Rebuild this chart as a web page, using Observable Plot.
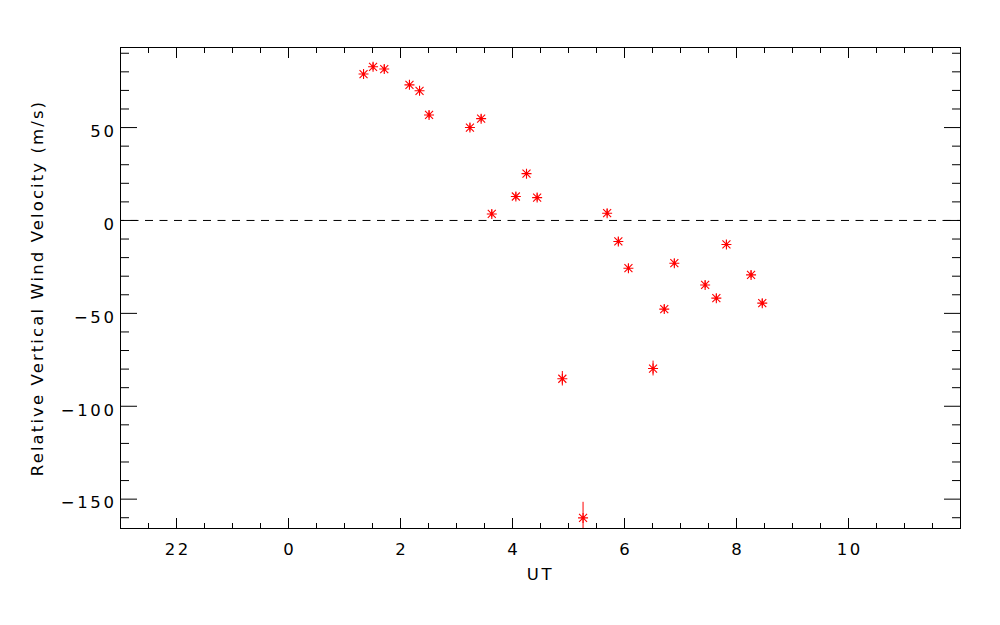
<!DOCTYPE html>
<html><head><meta charset="utf-8">
<script src="https://cdn.jsdelivr.net/npm/d3@7"></script>
<script src="https://cdn.jsdelivr.net/npm/@observablehq/plot@0.6"></script>
<style>
body{margin:0;background:#fff}
#chart svg text{letter-spacing:2.6px}
#chart g[aria-label="y-axis label"] text{letter-spacing:2.1px}
</style></head><body><div id="chart"></div>
<script>
// UT in hours (22 UT of previous day = -2)
const ut = [1.34, 1.51, 1.71, 2.16, 2.34, 2.51, 3.24, 3.44, 3.63, 4.06, 4.25, 4.44, 4.89, 5.26, 5.69, 5.89, 6.07, 6.51, 6.71, 6.89, 7.44, 7.64, 7.82, 8.26, 8.46];
const velocity = [78.8, 82.7, 81.5, 73.0, 69.8, 56.8, 50.0, 54.8, 3.5, 12.9, 25.2, 12.3, -85.2, -160.1, 3.9, -11.3, -25.7, -79.7, -47.7, -23.0, -34.7, -41.8, -12.9, -29.3, -44.5];
const velocityError = [2, 2, 2, 2, 2, 2, 2, 2, 2, 2, 2, 2, 3.9, 8.4, 2, 2, 2, 4.0, 2, 2, 2, 2, 2, 2, 2];

const xMajorTicks = [-2, 0, 2, 4, 6, 8, 10];
const xTickLabels = ["22", "0", "2", "4", "6", "8", "10"];
const xMinorTicks = [-2.5,-1.5,-1,-0.5,0.5,1,1.5,2.5,3,3.5,4.5,5,5.5,6.5,7,7.5,8.5,9,9.5,10.5,11,11.5];
const yMajorTicks = [-150, -100, -50, 0, 50];
const yMinorTicks = [-160,-140,-130,-120,-110,-90,-80,-70,-60,-40,-30,-20,-10,10,20,30,40,60,70,80,90];
const xDomain = [-3, 12];
const yDomain = [-165.8, 93.1];
const xLabel = "UT";
const yLabel = "Relative Vertical Wind Velocity (m/s)";

const data = ut.map((u, i) => ({ut: u, v: velocity[i], lo: velocity[i] - velocityError[i], hi: velocity[i] + velocityError[i]}));

const asterisk = {
  draw(ctx, size) {
    const r = Math.sqrt(size / Math.PI), d = r * 0.8;
    ctx.moveTo(-r, 0); ctx.lineTo(r, 0);
    ctx.moveTo(0, -r); ctx.lineTo(0, r);
    ctx.moveTo(-d, -d); ctx.lineTo(d, d);
    ctx.moveTo(-d, d); ctx.lineTo(d, -d);
  }
};

const red = "#ff0000";
const chart = Plot.plot({
  width: 1000, height: 625,
  marginTop: 47, marginBottom: 97, marginLeft: 120, marginRight: 40,
  style: {fontFamily: "DejaVu Sans", fontSize: "16.5px", color: "black", background: "white"},
  x: {domain: xDomain},
  y: {domain: yDomain},
  marks: [
    Plot.ruleY([0], {stroke: "black", strokeDasharray: "8,6.5", strokeDashoffset: 4}),
    // inward ticks on all four sides
    Plot.axisX({anchor: "bottom", ticks: xMajorTicks, tickSize: -10, fill: "none", label: null}),
    Plot.axisX({anchor: "bottom", ticks: xMinorTicks, tickSize: -5, fill: "none", label: null}),
    Plot.axisX({anchor: "top", ticks: xMajorTicks, tickSize: -10, fill: "none", label: null}),
    Plot.axisX({anchor: "top", ticks: xMinorTicks, tickSize: -5, fill: "none", label: null}),
    Plot.axisY({anchor: "left", ticks: yMajorTicks, tickSize: -17, fill: "none", label: null}),
    Plot.axisY({anchor: "left", ticks: yMinorTicks, tickSize: -9, fill: "none", label: null}),
    Plot.axisY({anchor: "right", ticks: yMajorTicks, tickSize: -17, fill: "none", label: null}),
    Plot.axisY({anchor: "right", ticks: yMinorTicks, tickSize: -9, fill: "none", label: null}),
    // labels
    Plot.axisX({anchor: "bottom", ticks: xMajorTicks, tickSize: 0, tickPadding: 15, dx: 1.3,
      tickFormat: d => xTickLabels[xMajorTicks.indexOf(d)], label: xLabel, labelAnchor: "center", labelArrow: "none", labelOffset: 51}),
    Plot.axisY({anchor: "left", ticks: yMajorTicks, tickSize: 0, tickPadding: 4, dy: 4,
      label: yLabel, labelAnchor: "center", labelArrow: "none", labelOffset: 89}),
    Plot.frame({stroke: "black"}),
    Plot.ruleX(data, {x: "ut", y1: "lo", y2: "hi", stroke: red, clip: true}),
    Plot.dot(data, {x: "ut", y: "v", symbol: asterisk, r: 5, stroke: red, strokeWidth: 1.1}),
    Plot.dot(data, {x: "ut", y: "v", r: 1.4, fill: red, stroke: "none"})
  ]
});
document.getElementById("chart").append(chart);
</script></body></html>
